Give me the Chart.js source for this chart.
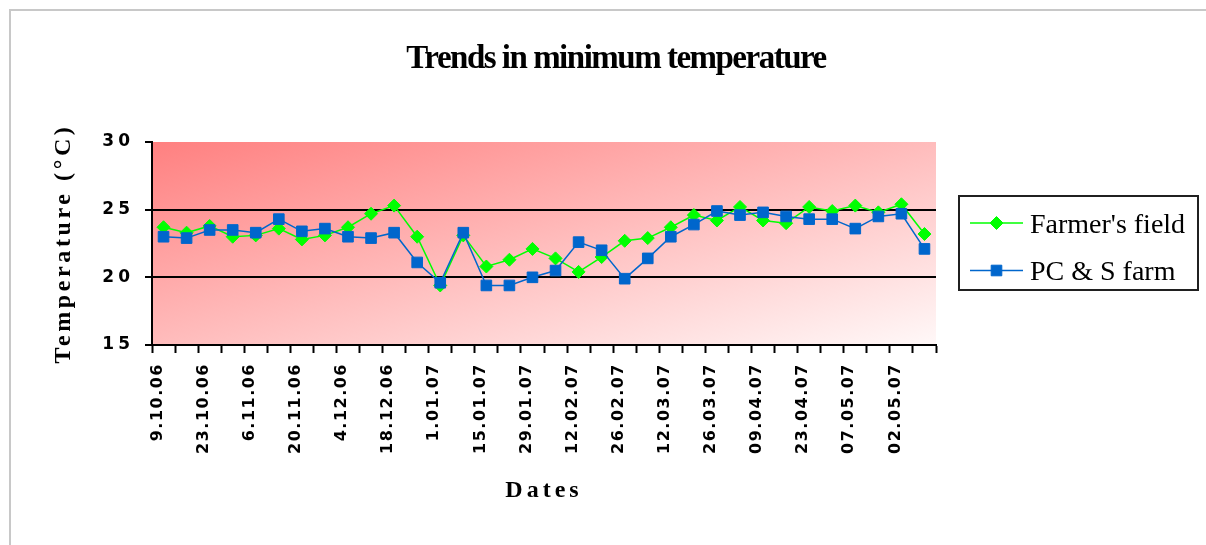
<!DOCTYPE html>
<html>
<head>
<meta charset="utf-8">
<title>Trends in minimum temperature</title>
<script src="https://cdn.jsdelivr.net/npm/chart.js@4.4.1/dist/chart.umd.min.js"></script>
<style>
  html, body { margin: 0; padding: 0; background: #ffffff; }
  #wrap { position: relative; width: 1206px; height: 545px; overflow: hidden; }
  #frame {
    position: absolute; left: 9px; top: 9px; right: -10px; bottom: -10px;
    border-top: 2px solid #c8c8c8; border-left: 2px solid #c8c8c8;
  }
  #chart { position: absolute; left: 0; top: 0; }
</style>
</head>
<body>
<div id="wrap">
  <div id="frame"></div>
  <canvas id="chart" width="1206" height="545"></canvas>
</div>
<script>
// Fortnightly dates printed under the axis (one reading per week in between)
const dateLabels = [
  '9.10.06', '23.10.06', '6.11.06', '20.11.06', '4.12.06', '18.12.06',
  '1.01.07', '15.01.07', '29.01.07', '12.02.07', '26.02.07', '12.03.07',
  '26.03.07', '09.04.07', '23.04.07', '07.05.07', '02.05.07'
];

// Weekly minimum temperature, °C
const farmersField = [
  23.7, 23.3, 23.8, 23.0, 23.1, 23.6, 22.8, 23.1, 23.7, 24.7, 25.3, 23.0,
  19.4, 23.1, 20.8, 21.3, 22.1, 21.4, 20.4, 21.5, 22.7, 22.9, 23.7, 24.6,
  24.2, 25.2, 24.2, 24.0, 25.2, 24.9, 25.3, 24.8, 25.4, 23.2
];
const pcsFarm = [
  23.0, 22.9, 23.5, 23.5, 23.3, 24.3, 23.4, 23.6, 23.0, 22.9, 23.3, 21.1,
  19.6, 23.3, 19.4, 19.4, 20.0, 20.5, 22.6, 22.0, 19.9, 21.4, 23.0, 23.9,
  24.9, 24.6, 24.8, 24.5, 24.3, 24.3, 23.6, 24.5, 24.7, 22.1
];

const yMin = 15;
const yMax = 30;
const yStep = 5;
const gridValues = [20, 25];

// one category per week; only every second week carries a date
const categories = [];
dateLabels.forEach(d => categories.push(d, ''));

// run a box's text drawing with a given canvas letter spacing
function withSpacing(target, method, spacing) {
  const key = '__spaced_' + method;
  if (!target || target[key]) return;
  const original = target[method];
  target[method] = function (...args) {
    const ctx = this.ctx;
    const previous = ctx.letterSpacing;
    ctx.letterSpacing = spacing;
    try { return original.apply(this, args); }
    finally { ctx.letterSpacing = previous; }
  };
  target[key] = true;
}

const letterSpacingPlugin = {
  id: 'letterSpacing',
  afterLayout(chart) {
    withSpacing(chart.titleBlock, 'draw', '-1.5px');
    withSpacing(chart.scales.x, 'drawLabels', '1.5px');
    withSpacing(chart.scales.x, 'drawTitle', '4px');
    withSpacing(chart.scales.y, 'drawLabels', '4px');
    withSpacing(chart.scales.y, 'drawTitle', '3.6px');
  }
};

// diagonal red-to-white fill behind the plot
const plotBackground = {
  id: 'plotBackground',
  beforeDraw(chart) {
    const { ctx, chartArea: a } = chart;
    ctx.save();
    ctx.translate(a.left, a.top);
    ctx.scale(a.right - a.left, a.bottom - a.top);
    const g = ctx.createLinearGradient(0, 0, 1, 1);
    g.addColorStop(0, '#ff8080');
    g.addColorStop(1, '#fff8f8');
    ctx.fillStyle = g;
    ctx.fillRect(0, 0, 1, 1);
    ctx.restore();
  }
};

function drawMarker(ctx, style, radius, x, y) {
  if (Chart.helpers && Chart.helpers.drawPoint) {
    Chart.helpers.drawPoint(ctx, { pointStyle: style, radius, rotation: 0, borderWidth: 1 }, x, y);
    return;
  }
  ctx.beginPath();
  if (style === 'rectRot') {
    ctx.moveTo(x, y - radius); ctx.lineTo(x + radius, y);
    ctx.lineTo(x, y + radius); ctx.lineTo(x - radius, y);
  } else {
    const s = radius * Math.SQRT1_2;
    ctx.rect(x - s, y - s, 2 * s, 2 * s);
  }
  ctx.closePath(); ctx.fill(); ctx.stroke();
}

// boxed legend to the right of the plot
const boxedLegend = {
  id: 'boxedLegend',
  afterDraw(chart) {
    const { ctx } = chart;
    const box = { x: 958, y: 195, w: 241, h: 96 };
    const rows = [223, 270.5];
    const baselines = [233, 279.5];
    ctx.save();
    ctx.fillStyle = '#ffffff';
    ctx.fillRect(box.x, box.y, box.w, box.h);
    ctx.lineWidth = 2;
    ctx.strokeStyle = '#202020';
    ctx.strokeRect(box.x + 1, box.y + 1, box.w - 2, box.h - 2);
    chart.data.datasets.forEach((ds, i) => {
      const y = rows[i];
      ctx.strokeStyle = ds.borderColor;
      ctx.lineWidth = ds.borderWidth;
      ctx.beginPath();
      ctx.moveTo(970, y);
      ctx.lineTo(1023, y);
      ctx.stroke();
      ctx.fillStyle = ds.pointBackgroundColor;
      ctx.strokeStyle = ds.pointBorderColor;
      ctx.lineWidth = 1;
      drawMarker(ctx, ds.pointStyle, ds.pointRadius, 996.5, y);
      ctx.fillStyle = '#000000';
      ctx.font = '28px "Liberation Serif"';
      ctx.textAlign = 'left';
      ctx.textBaseline = 'alphabetic';
      ctx.fillText(ds.label, 1030, baselines[i]);
    });
    ctx.restore();
  }
};

new Chart(document.getElementById('chart'), {
  type: 'line',
  data: {
    labels: categories,
    datasets: [
      {
        label: "Farmer's field",
        data: farmersField,
        borderColor: '#00ff00',
        backgroundColor: '#00ff00',
        borderWidth: 1.5,
        pointStyle: 'rectRot',
        pointRadius: 6.5,
        pointBorderWidth: 1,
        pointBackgroundColor: '#00ff00',
        pointBorderColor: '#00ff00',
        tension: 0,
        order: 2
      },
      {
        label: 'PC & S farm',
        data: pcsFarm,
        borderColor: '#0066cc',
        backgroundColor: '#0066cc',
        borderWidth: 1.5,
        pointStyle: 'rect',
        pointRadius: 7.5,
        pointBorderWidth: 1,
        pointBackgroundColor: '#0066cc',
        pointBorderColor: '#0066cc',
        tension: 0,
        order: 1
      }
    ]
  },
  options: {
    responsive: false,
    devicePixelRatio: 1,
    animation: false,
    events: [],
    layout: { padding: { left: 26, right: 0, top: 0, bottom: 0 } },
    plugins: {
      legend: { display: false },
      tooltip: { enabled: false },
      title: {
        display: true,
        text: 'Trends in minimum temperature',
        color: '#000000',
        font: { family: 'Liberation Serif', size: 33, weight: 'bold' },
        padding: { top: 40, bottom: 62.4 }
      }
    },
    scales: {
      x: {
        type: 'category',
        offset: true,
        grid: {
          offset: true,
          drawOnChartArea: false,
          tickLength: 8,
          tickWidth: 2,
          tickColor: '#000000',
          color: '#000000'
        },
        border: { color: '#000000', width: 2 },
        ticks: {
          autoSkip: false,
          maxRotation: 90,
          minRotation: 90,
          padding: 10,
          labelOffset: -6,
          color: '#000000',
          font: { family: 'DejaVu Sans', size: 16, weight: 'bold' }
        },
        title: {
          display: true,
          text: 'Dates',
          color: '#000000',
          font: { family: 'Liberation Serif', size: 24, weight: 'bold' },
          padding: { top: 0, bottom: 40 }
        },
        afterFit(scale) { scale.height = 200; }
      },
      y: {
        min: yMin,
        max: yMax,
        ticks: {
          stepSize: yStep,
          padding: 11,
          color: '#000000',
          font: { family: 'DejaVu Sans', size: 17, weight: 'bold' }
        },
        grid: {
          color: c => (c.tick && gridValues.includes(c.tick.value)) ? '#000000' : 'rgba(0,0,0,0)',
          lineWidth: 2,
          tickLength: 7,
          tickWidth: 2,
          tickColor: '#000000'
        },
        border: { color: '#000000', width: 2 },
        title: {
          display: true,
          text: 'Temperature (°C)',
          color: '#000000',
          font: { family: 'Liberation Serif', size: 24, weight: 'bold' },
          padding: { top: 23, bottom: 0 }
        },
        afterFit(scale) { scale.width = 126; }
      },
      legendSpace: {
        type: 'linear',
        position: 'right',
        display: true,
        grid: { display: false },
        border: { display: false },
        ticks: { display: false },
        afterFit(scale) { scale.width = 270; }
      }
    }
  },
  plugins: [letterSpacingPlugin, plotBackground, boxedLegend]
});
</script>
</body>
</html>
